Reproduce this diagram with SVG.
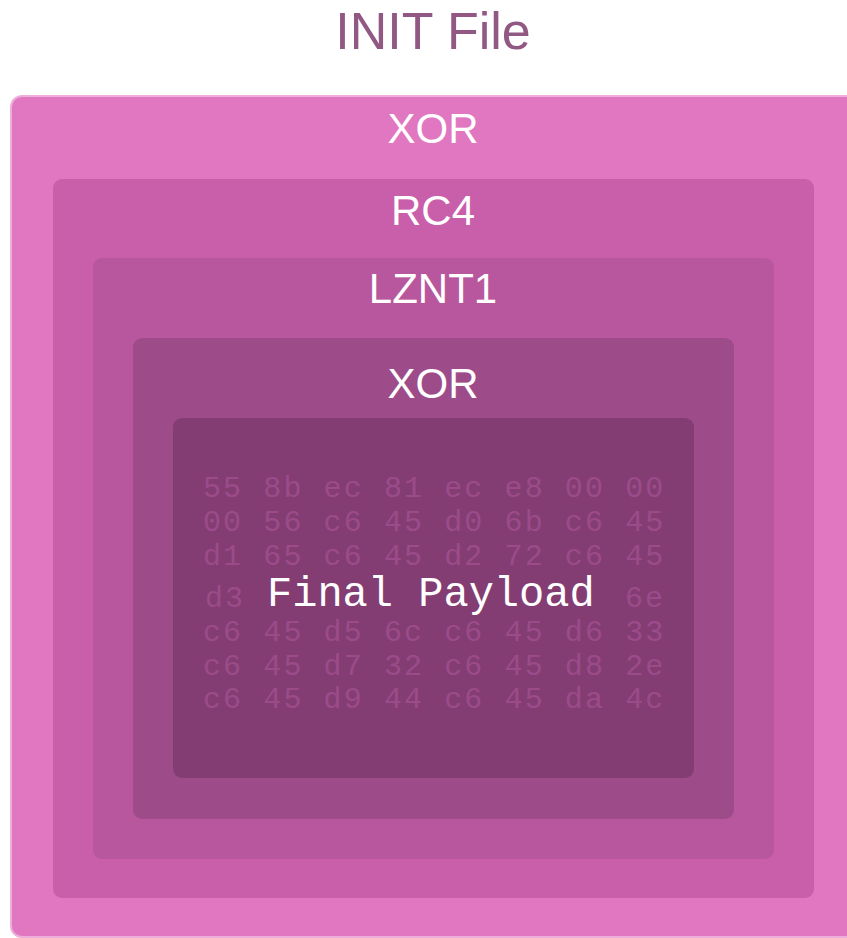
<svg xmlns="http://www.w3.org/2000/svg" width="847" height="938" viewBox="0 0 847 938">
  <style>
    .lbl { font-family: "Liberation Sans", Arial, sans-serif; font-size: 42px; fill: #ffffff; text-anchor: middle; }
    .title { font-family: "Liberation Sans", Arial, sans-serif; font-size: 52px; fill: #925884; text-anchor: middle; }
    .hex { font-family: "Liberation Mono", "Courier New", monospace; font-size: 30px; letter-spacing: 2.1px; fill: #9b4b8a; }
    .payload { font-family: "Liberation Mono", "Courier New", monospace; font-size: 42px; fill: #ffffff; }
  </style>
  <rect width="847" height="938" fill="#ffffff"/>
  <text class="title" x="433" y="49">INIT File</text>
  <g id="layer-xor-outer">
    <rect x="11" y="96" width="860" height="841" rx="11" fill="#e077c0" stroke="#eeaedb" stroke-width="2"/>
    <text class="lbl" x="433" y="143">XOR</text>
  </g>
  <g id="layer-rc4">
    <rect x="53" y="179" width="761" height="719" rx="9" fill="#c95eab"/>
    <text class="lbl" x="433" y="225">RC4</text>
  </g>
  <g id="layer-lznt1">
    <rect x="93" y="258" width="681" height="601" rx="9" fill="#b8579e"/>
    <text class="lbl" x="433" y="303">LZNT1</text>
  </g>
  <g id="layer-xor-inner">
    <rect x="133" y="338" width="601" height="481" rx="9" fill="#9e4b8a"/>
    <text class="lbl" x="433" y="398">XOR</text>
  </g>
  <g id="payload">
    <rect x="173" y="418" width="521" height="360" rx="9" fill="#843d72"/>
    <g xml:space="preserve">
      <text class="hex" x="203" y="497">55 8b ec 81 ec e8 00 00</text>
      <text class="hex" x="203" y="531">00 56 c6 45 d0 6b c6 45</text>
      <text class="hex" x="203" y="565">d1 65 c6 45 d2 72 c6 45</text>
      <text class="hex" x="205" y="607">d3</text>
      <text class="hex" x="625" y="607">6e</text>
      <text class="hex" x="203" y="641">c6 45 d5 6c c6 45 d6 33</text>
      <text class="hex" x="203" y="675">c6 45 d7 32 c6 45 d8 2e</text>
      <text class="hex" x="203" y="708">c6 45 d9 44 c6 45 da 4c</text>
    </g>
    <text class="payload" x="267" y="606">Final Payload</text>
  </g>
</svg>
